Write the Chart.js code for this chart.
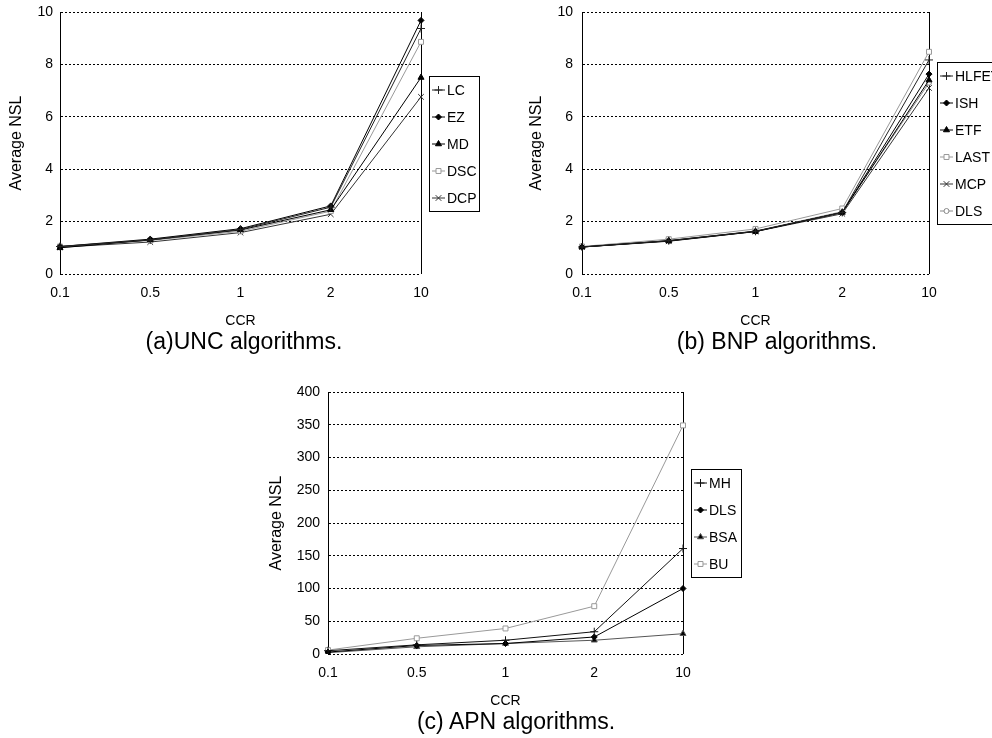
<!DOCTYPE html>
<html>
<head>
<meta charset="utf-8">
<script src="https://cdn.jsdelivr.net/npm/chart.js"></script>
<style>
  body { margin: 0; background: #fff; }
  #page { position: relative; width: 992px; height: 738px; overflow: hidden; background: #fff; }
  .box { position: absolute; }
  .cap { position: absolute; font: 23px "Liberation Sans", Arial, sans-serif; color: #000; transform: translate(-50%, -50%); white-space: nowrap; line-height: 1; }
</style>
</head>
<body>
<div id="page">
  <div class="box" style="left:0;top:0;width:496px;height:335px"><canvas id="unc"></canvas></div>
  <div class="box" style="left:500px;top:0;width:492px;height:335px"><canvas id="bnp"></canvas></div>
  <div class="box" style="left:260px;top:380px;width:485px;height:335px"><canvas id="apn"></canvas></div>
  <div class="cap" style="left:244px;top:341px">(a)UNC algorithms.</div>
  <div class="cap" style="left:777px;top:341px">(b) BNP algorithms.</div>
  <div class="cap" style="left:516px;top:721px">(c) APN algorithms.</div>
</div>
<script>
// x categories
const ccrLabels = ['0.1', '0.5', '1', '2', '10'];

// (a) UNC
const uncLC  = [1.05, 1.30, 1.70, 2.55, 9.37];
const uncEZ  = [1.05, 1.33, 1.73, 2.60, 9.68];
const uncMD  = [1.00, 1.30, 1.68, 2.45, 7.50];
const uncDSC = [1.05, 1.28, 1.63, 2.40, 8.86];
const uncDCP = [1.02, 1.22, 1.58, 2.28, 6.76];

// (b) BNP
const bnpHLFET = [1.03, 1.27, 1.63, 2.35, 8.17];
const bnpISH   = [1.03, 1.27, 1.63, 2.35, 7.63];
const bnpETF   = [1.03, 1.26, 1.62, 2.35, 7.40];
const bnpLAST  = [1.05, 1.33, 1.72, 2.50, 8.48];
const bnpMCP   = [1.03, 1.25, 1.62, 2.30, 7.10];
const bnpDLS   = [1.04, 1.28, 1.64, 2.38, 7.30];

// (c) APN
const apnMH  = [5, 14, 21, 34, 161];
const apnDLS = [3, 13, 16, 26, 100];
const apnBSA = [2, 11, 16, 21, 31];
const apnBU  = [6, 24, 39, 73, 349];

const nslMax = 10, nslStep = 2;
const apnMax = 400, apnStep = 50;

const FONT = '"Liberation Sans", Arial, sans-serif';

function ds(label, data, color, style, fill, radius) {
  return {
    label: label, data: data,
    borderColor: color, borderWidth: 1,
    pointStyle: style, pointRadius: radius || 3.5, pointBorderWidth: 1,
    pointBorderColor: color, pointBackgroundColor: fill,
    tension: 0
  };
}

// legend with box, drawn next to the plot area
const boxLegend = {
  id: 'boxLegend',
  afterDraw(chart, args, opts) {
    const ctx = chart.ctx, a = chart.chartArea;
    const sets = chart.data.datasets;
    const rowH = opts.rowH, n = sets.length;
    const left = a.right + opts.gap;
    const top = Math.round((a.top + a.bottom) / 2 - n * rowH / 2) + 0.5;
    ctx.save();
    ctx.strokeStyle = '#000'; ctx.lineWidth = 1;
    ctx.strokeRect(Math.round(left) + 0.5, top, opts.width, n * rowH);
    sets.forEach((d, i) => {
      const y = top + rowH * (i + 0.5);
      const x0 = left + 3;
      ctx.strokeStyle = d.borderColor; ctx.lineWidth = 1;
      ctx.beginPath(); ctx.moveTo(x0, y); ctx.lineTo(x0 + 13, y); ctx.stroke();
      ctx.fillStyle = d.pointBackgroundColor; ctx.strokeStyle = d.pointBorderColor;
      Chart.helpers.drawPoint(ctx, {pointStyle: d.pointStyle, radius: d.pointRadius, rotation: 0, borderWidth: 1}, x0 + 6.5, y);
      ctx.fillStyle = '#000';
      ctx.font = '14px ' + FONT;
      ctx.textBaseline = 'middle'; ctx.textAlign = 'left';
      ctx.fillText(d.label, x0 + 15, y + 1);
    });
    ctx.restore();
  }
};

function makeChart(id, datasets, cfg) {
  return new Chart(document.getElementById(id), {
    type: 'line',
    data: { labels: ccrLabels, datasets: datasets },
    plugins: [boxLegend],
    options: {
      responsive: true, maintainAspectRatio: false, animation: false,
      layout: { padding: cfg.padding },
      plugins: {
        legend: { display: false }, tooltip: { enabled: false },
        boxLegend: { gap: 8, width: cfg.legendW, rowH: cfg.rowH }
      },
      scales: {
        x: {
          offset: false,
          afterFit: s => { s.height = cfg.xH; },
          grid: { color: c => c.index === ccrLabels.length - 1 ? '#000' : 'rgba(0,0,0,0)', lineWidth: 1, drawTicks: false },
          border: { display: false },
          ticks: { color: '#000', padding: 11, font: { family: FONT, size: 14 }, maxRotation: 0, autoSkip: false },
          title: { display: true, text: 'CCR', color: '#000', font: { family: FONT, size: 14 }, padding: { top: 0, bottom: 5 } }
        },
        y: {
          min: 0, max: cfg.yMax,
          afterFit: s => { s.width = cfg.yW; s.paddingTop = 0; s.paddingBottom = 0; },
          grid: { color: '#000', lineWidth: 1, drawTicks: false },
          border: { display: true, color: '#000', width: 1, dash: [2, 2] },
          ticks: { stepSize: cfg.yStep, color: '#000', padding: cfg.tickPad, font: { family: FONT, size: 14 } },
          title: { display: true, text: 'Average NSL', color: '#000', font: { family: FONT, size: 16 }, padding: { top: 7, bottom: 0 } }
        }
      }
    }
  });
}

makeChart('unc', [
  ds('LC',  uncLC,  '#222', 'cross', '#222', 4),
  ds('EZ',  uncEZ,  '#000', 'rectRot', '#000', 3),
  ds('MD',  uncMD,  '#000', 'triangle', '#000', 3.5),
  ds('DSC', uncDSC, '#999', 'rect', '#fff', 3.5),
  ds('DCP', uncDCP, '#333', 'crossRot', '#333', 4)
], { padding: { left: 0, top: 12, right: 75, bottom: 0 }, xH: 61, yW: 60, tickPad: 7, yMax: nslMax, yStep: nslStep, legendW: 50, rowH: 27 });

makeChart('bnp', [
  ds('HLFET', bnpHLFET, '#222', 'cross', '#222', 4),
  ds('ISH',   bnpISH,   '#000', 'rectRot', '#000', 3),
  ds('ETF',   bnpETF,   '#000', 'triangle', '#000', 3.5),
  ds('LAST',  bnpLAST,  '#999', 'rect', '#fff', 3.5),
  ds('MCP',   bnpMCP,   '#333', 'crossRot', '#333', 4),
  ds('DLS',   bnpDLS,   '#888', 'circle', '#fff', 2.5)
], { padding: { left: 20, top: 12, right: 63, bottom: 0 }, xH: 61, yW: 62, tickPad: 9, yMax: nslMax, yStep: nslStep, legendW: 70, rowH: 27 });

makeChart('apn', [
  ds('MH',  apnMH,  '#111', 'cross', '#111', 4),
  ds('DLS', apnDLS, '#000', 'rectRot', '#000', 3),
  ds('BSA', apnBSA, '#555', 'triangle', '#000', 3.5),
  ds('BU',  apnBU,  '#999', 'rect', '#fff', 3.5)
], { padding: { left: 0, top: 12, right: 62, bottom: 0 }, xH: 61, yW: 68, tickPad: 8, yMax: apnMax, yStep: apnStep, legendW: 50, rowH: 27 });
</script>
</body>
</html>
